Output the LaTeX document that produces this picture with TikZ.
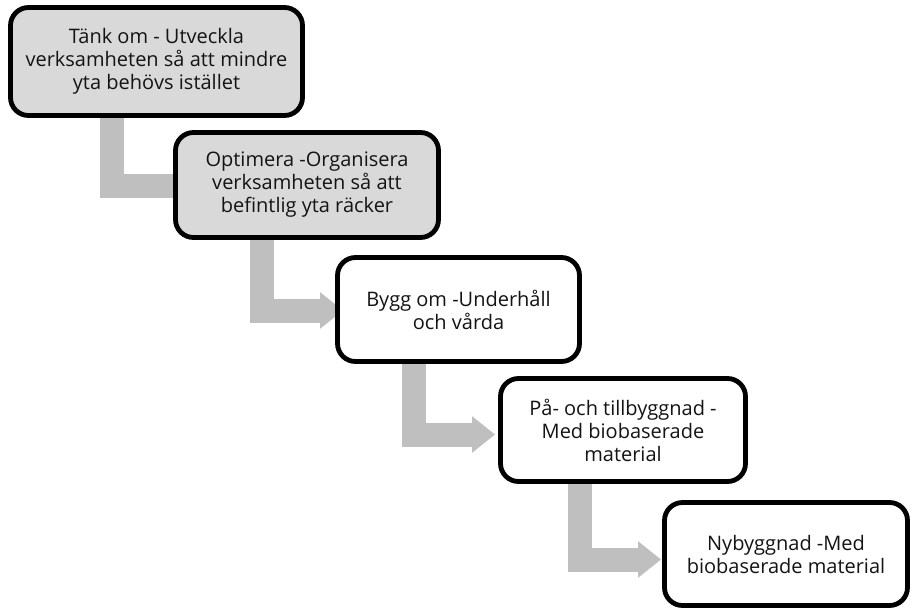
\documentclass[tikz,border=0pt]{standalone}
\usepackage{fontspec}
\setmainfont{Open Sans}
\usetikzlibrary{arrows.meta,calc}
\pgfdeclarelayer{bg}
\pgfsetlayers{bg,main}
\definecolor{flowgray}{HTML}{BFBFBF}
\definecolor{boxgray}{HTML}{D9D9D9}
\definecolor{ink}{HTML}{141414}
\tikzset{
  stagebox/.style={draw=black, line width=4.8pt, rounded corners=18pt,
    fill=white, inner sep=0pt, align=center, text=ink,
    font=\fontsize{20}{23}\selectfont},
  shaded/.style={fill=boxgray},
  flowbar/.style={draw=flowgray, line width=24pt, line join=miter, line cap=butt},
  flowarrow/.style={flowbar, -{Triangle[width=35pt,length=23pt]}},
}
\begin{document}
\begin{tikzpicture}[x=1pt,y=-1pt]
  \useasboundingbox (0,0) rectangle (913,611);

  % stages, stepping down to the right
  \node[stagebox, shaded, minimum width=292pt, minimum height=108pt] (b1) at (156.5,61.5)
    {Tänk om - Utveckla\\verksamheten så att mindre\\yta behövs istället};
  \node[stagebox, shaded, minimum width=263pt, minimum height=105pt] (b2) at (307,185)
    {Optimera -Organisera\\verksamheten så att\\befintlig yta räcker};
  \node[stagebox, minimum width=242pt, minimum height=104pt] (b3) at (458.5,309.5)
    {Bygg om -Underhåll\\och vårda};
  \node[stagebox, minimum width=245pt, minimum height=103pt] (b4) at (623,430)
    {På- och tillbyggnad -\\Med biobaserade\\material};
  \node[stagebox, minimum width=243pt, minimum height=103pt] (b5) at (786,554)
    {Nybyggnad -Med\\biobaserade material};

  % bent connectors behind the boxes
  \coordinate (s1) at (111.5,110);
  \coordinate (s2) at (261.5,234);
  \coordinate (s3) at (413.5,358);
  \coordinate (s4) at (579.5,478);
  \begin{pgfonlayer}{bg}
    \draw[flowbar]   (s1) |- ($(b2.west)+(10,1)$);
    \draw[flowarrow] (s2) |- ($(b3.west)+(8,1)$);
    \draw[flowarrow] (s3) |- ($(b4.west)+(-3,4.5)$);
    \draw[flowarrow] (s4) |- ($(b5.west)+(-1,5.5)$);
  \end{pgfonlayer}
\end{tikzpicture}
\end{document}
